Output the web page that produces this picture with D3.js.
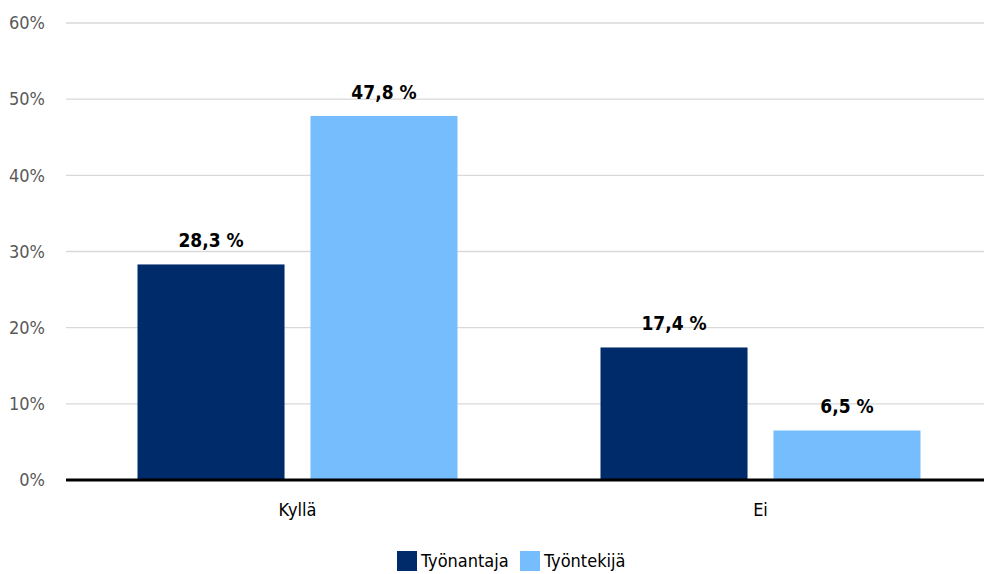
<!DOCTYPE html>
<html>
<head>
<meta charset="utf-8">
<script src="https://cdn.jsdelivr.net/npm/d3@7"></script>
<style>
  body { margin: 0; background: #fff; }
  svg { font-family: "DejaVu Sans Condensed", "DejaVu Sans", sans-serif; font-stretch: condensed; }
</style>
</head>
<body>
<div class="chart"></div>
<script>
const categories = ['Kyllä', 'Ei'];
const seriesNames = ['Työnantaja', 'Työntekijä'];
const employer = [28.3, 17.4];
const employee = [47.8, 6.5];
const yTicks = [0, 10, 20, 30, 40, 50, 60];
const colors = ['#002b6b', '#75bdfd'];

const width = 984;
const height = 574;
const margin = { top: 23, right: -8, bottom: 94, left: 66 };
const innerW = width - margin.left - margin.right;
const innerH = height - margin.top - margin.bottom;

const svg = d3.select('.chart').append('svg')
    .attr('width', width)
    .attr('height', height);

const g = svg.append('g')
    .attr('transform', `translate(${margin.left}, ${margin.top})`);

const x0 = d3.scaleBand().domain(categories).range([0, innerW]).paddingInner(0).paddingOuter(0);
const x1 = d3.scaleBand().domain(seriesNames).range([71.5, x0.bandwidth() - 71.5]).paddingInner(0.15);
const y = d3.scaleLinear().domain([0, 60]).range([innerH, 0]);

// gridlines
g.selectAll('.grid')
    .data(yTicks.slice(1))
  .enter().append('line')
    .attr('x1', 0)
    .attr('x2', innerW)
    .attr('y1', d => y(d))
    .attr('y2', d => y(d))
    .attr('stroke', '#d9d9d9')
    .attr('stroke-width', 1.3);

// y tick labels
g.selectAll('.ytick')
    .data(yTicks)
  .enter().append('text')
    .attr('x', -21)
    .attr('y', d => y(d))
    .attr('dy', '0.35em')
    .attr('text-anchor', 'end')
    .attr('fill', '#595959')
    .style('font-size', '18px')
    .text(d => `${d}%`);

const rows = categories.map((c, i) => ({
  cat: c,
  vals: [ { s: seriesNames[0], v: employer[i] }, { s: seriesNames[1], v: employee[i] } ]
}));

const groups = g.selectAll('.grp')
    .data(rows)
  .enter().append('g')
    .attr('transform', d => `translate(${x0(d.cat)}, 0)`);

groups.selectAll('rect')
    .data(d => d.vals)
  .enter().append('rect')
    .attr('x', d => x1(d.s))
    .attr('width', x1.bandwidth())
    .attr('y', d => y(d.v))
    .attr('height', d => innerH - y(d.v))
    .attr('fill', (d, i) => colors[i]);

groups.selectAll('.lbl')
    .data(d => d.vals)
  .enter().append('text')
    .attr('x', d => x1(d.s) + x1.bandwidth() / 2)
    .attr('y', d => y(d.v) - 17)
    .attr('text-anchor', 'middle')
    .attr('fill', '#000')
    .style('font-size', '19px')
    .style('font-weight', 'bold')
    .text(d => `${d.v.toFixed(1).replace('.', ',')} %`);

// x axis line
g.append('line')
    .attr('x1', 0)
    .attr('x2', innerW)
    .attr('y1', innerH)
    .attr('y2', innerH)
    .attr('stroke', '#000')
    .attr('stroke-width', 3);

// category labels
g.selectAll('.xlbl')
    .data(categories)
  .enter().append('text')
    .attr('x', d => x0(d) + x0.bandwidth() / 2)
    .attr('y', innerH + 36)
    .attr('text-anchor', 'middle')
    .attr('fill', '#000')
    .style('font-size', '18px')
    .text(d => d);

// legend
const legend = svg.append('g').attr('transform', 'translate(397, 551)');
const legendX = [0, 123];
seriesNames.forEach((s, i) => {
  legend.append('rect')
      .attr('x', legendX[i])
      .attr('y', 0)
      .attr('width', 20)
      .attr('height', 20)
      .attr('fill', colors[i]);
  legend.append('text')
      .attr('x', legendX[i] + 24)
      .attr('y', 10)
      .attr('dy', '0.35em')
      .attr('fill', '#000')
      .style('font-size', '18px')
      .text(s);
});
</script>
</body>
</html>
